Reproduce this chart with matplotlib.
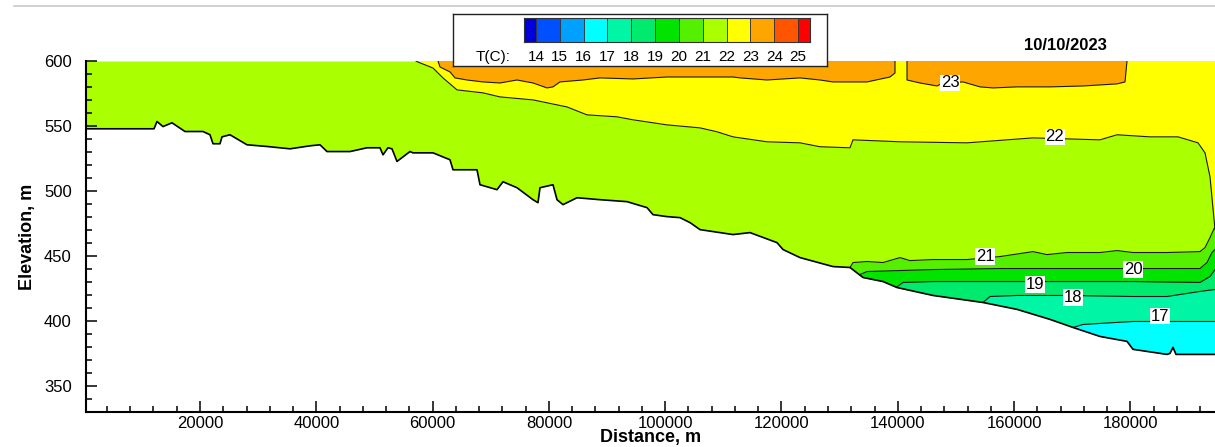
import matplotlib
matplotlib.use("Agg")
import matplotlib.pyplot as plt
from matplotlib.ticker import MultipleLocator
from matplotlib.lines import Line2D

plt.rcParams["font.family"] = ["Liberation Sans", "DejaVu Sans"]

# Perfil del fondo del embalse (distancia m, cota m)
BED_X = [0, 12090, 12605, 13637, 15185, 17420, 20516, 21720, 22236, 23440,
         23783, 25159, 28083, 31522, 35477, 38917, 40636, 41840, 45795, 48719,
         50955, 51470, 52330, 53018, 53878, 56114, 56630, 60069, 62992, 63508,
         67636, 68152, 71075, 72107, 74515, 77266, 78126, 78470, 80705, 81393,
         82425, 84833, 88788, 93431, 96871, 97903, 100310, 102546, 104266, 105985,
         111660, 114584, 119227, 120259, 123182, 128857, 131781, 134017, 137456, 139863,
         146054, 154652, 160499, 166175, 170130, 174773, 179417, 180449, 186295, 186811,
         187327, 187843, 194550]
BED_Z = [547.9, 547.9, 553.5, 549.6, 552.5, 545.8, 545.8, 543.3, 536.4, 536.4,
         541.7, 543.3, 535.6, 534.3, 532.5, 534.8, 535.6, 530.4, 530.4, 533.3,
         533.3, 527.9, 533.3, 532.5, 522.8, 530.4, 529.4, 529.4, 524.1, 516.4,
         516.4, 504.9, 501.1, 507.2, 502.6, 493.4, 491.1, 502.6, 504.9, 493.4,
         489.6, 494.9, 493.4, 491.9, 487.3, 481.9, 480.4, 479.6, 475.8, 470.4,
         466.6, 468.1, 460.4, 455.1, 448.9, 442.0, 441.3, 433.6, 430.5, 425.9,
         419.8, 414.4, 409.1, 401.4, 395.2, 388.3, 384.5, 378.4, 374.5, 375.3,
         379.9, 374.5, 374.5]

# Isotermas (distancia m, cota m)
ISO23A_X = [60929, 61273, 62992, 63852, 65916, 68667, 71591, 74515, 77266, 79674,
            80705, 81910, 85865, 88788, 94465, 100310, 105985, 111660, 112864, 117507,
            123182, 126624, 128857, 134706, 138659, 139519, 139519]
ISO23A_Z = [600, 595.4, 591.6, 587.0, 585.4, 583.9, 583.1, 585.4, 583.1, 579.3,
            580.1, 583.9, 585.4, 587.0, 586.2, 587.7, 587.7, 587.7, 587.0, 585.4,
            587.0, 585.4, 583.9, 583.9, 587.7, 590.8, 600]

ISO23B_X = [141585, 141585, 143819, 146743, 147775, 151216, 154139, 156374, 160499,
            166175, 171852, 177698, 179073, 179417]
ISO23B_Z = [600, 585.4, 583.1, 580.8, 583.1, 583.9, 580.1, 579.3, 580.1,
            580.1, 580.8, 582.4, 583.9, 600]

ISO22_X = [57146, 57489, 60069, 61789, 64197, 68667, 71591, 77266, 83114, 86553,
           91713, 94465, 100310, 105985, 108911, 111660, 117507, 123182, 126624, 131781,
           132297, 140379, 151903, 163252, 174773, 177698, 183372, 188187, 191627, 192831,
           193691, 194550]
ISO22_Z = [600.0, 599.2, 594.6, 587.0, 577.8, 575.5, 572.4, 570.1, 564.7, 558.6,
           557.1, 554.8, 550.9, 548.6, 545.6, 541.7, 537.9, 537.1, 534.1, 533.3,
           539.4, 537.9, 537.1, 540.9, 539.4, 543.3, 541.7, 541.7, 537.1, 529.4,
           511.0, 470.4]

ISO21_X = [131781, 132297, 134706, 137456, 140379, 142099, 146054, 151903, 157576, 163252,
           165659, 169098, 174773, 177698, 180449, 186295, 191970, 192831, 193691, 194550]
ISO21_Z = [441.3, 445.1, 445.9, 445.1, 448.9, 446.6, 447.4, 447.4, 449.7, 453.5,
           451.2, 452.8, 452.8, 454.3, 452.8, 452.8, 453.5, 456.6, 464.3, 472.7]

ISO20_X = [133501, 134706, 146054, 157576, 169098, 180449, 191970, 193174, 194034, 194550]
ISO20_Z = [435.9, 438.2, 439.7, 440.5, 440.5, 440.5, 440.5, 445.1, 452.8, 455.1]

ISO19_X = [139691, 140895, 146054, 157576, 169098, 180449, 191970, 193691, 194550]
ISO19_Z = [425.9, 429.8, 430.5, 430.5, 430.5, 430.5, 429.8, 434.4, 439.7]

ISO18_X = [154652, 155856, 160499, 169098, 180449, 186295, 191970, 194550]
ISO18_Z = [414.4, 419.0, 419.8, 419.8, 419.0, 419.0, 422.9, 424.4]

ISO17_X = [170130, 171852, 177698, 180449, 186295, 194550]
ISO17_Z = [395.2, 397.5, 399.1, 399.8, 399.8, 399.8]

# Escala de colores
LEVELS = [14, 15, 16, 17, 18, 19, 20, 21, 22, 23, 24, 25]
LEVEL_COLORS = ["#0000dd", "#0050ff", "#00a0ff", "#00ffff", "#00f5a5", "#00ea6e",
                "#00e400", "#55f000", "#aaff00", "#ffff00", "#ffa500", "#ff5500",
                "#ff0000"]

# Etiquetas de las isotermas
LABEL_T = [23, 22, 21, 20, 19, 18, 17]
LABEL_X = [148978, 167034, 154997, 180449, 163595, 170130, 185094]
LABEL_Z = [583.1, 541.7, 449.7, 439.7, 428.2, 418.2, 403.9]

DATE = "10/10/2023"


def band_color(t):
    # color de la banda [t, t+1)
    return LEVEL_COLORS[LEVELS.index(t) + 1]


fig = plt.figure(figsize=(12.15, 4.47), dpi=100)
ax = fig.add_axes([0.07053, 0.07763, 0.92947, 0.78591])

# agua (21-22)
ax.fill_between(BED_X, BED_Z, 600, color=band_color(21), lw=0, zorder=1)
# capas superiores
ax.fill_between(ISO22_X, ISO22_Z, 600, color=band_color(22), lw=0, zorder=1)
ax.fill(ISO23A_X, ISO23A_Z, color=band_color(23), lw=0, zorder=1)
ax.fill(ISO23B_X, ISO23B_Z, color=band_color(23), lw=0, zorder=1)
# capas inferiores
for xs, zs, t in [(ISO21_X, ISO21_Z, 20), (ISO20_X, ISO20_Z, 19), (ISO19_X, ISO19_Z, 18),
                  (ISO18_X, ISO18_Z, 17), (ISO17_X, ISO17_Z, 16)]:
    ax.fill_between(xs, 330, zs, color=band_color(t), lw=0, zorder=1)

for xs, zs in [(ISO23A_X, ISO23A_Z), (ISO23B_X, ISO23B_Z), (ISO22_X, ISO22_Z),
               (ISO21_X, ISO21_Z), (ISO20_X, ISO20_Z), (ISO19_X, ISO19_Z),
               (ISO18_X, ISO18_Z), (ISO17_X, ISO17_Z)]:
    ax.plot(xs, zs, color="#1a1a1a", lw=0.8, zorder=1.2)

# terreno
ax.fill_between(BED_X, 330, BED_Z, color="white", lw=0, zorder=1.5)
ax.plot(BED_X, BED_Z, color="black", lw=1.2, zorder=2)

for t, x, z in zip(LABEL_T, LABEL_X, LABEL_Z):
    ax.text(x, z, str(t), ha="center", va="center", fontsize=12, zorder=3,
            bbox=dict(facecolor="white", edgecolor="none", pad=0.5))

ax.set_xlim(344, 194550)
ax.set_ylim(330, 600)
ax.xaxis.set_major_locator(MultipleLocator(20000))
ax.xaxis.set_minor_locator(MultipleLocator(4000))
ax.yaxis.set_major_locator(MultipleLocator(50))
ax.yaxis.set_minor_locator(MultipleLocator(10))
ax.tick_params(which="both", direction="in", top=False, right=False, width=1.1)
ax.tick_params(which="major", length=8, labelsize=12)
ax.tick_params(which="minor", length=4.5)
ax.tick_params(axis="x", pad=3)
ax.tick_params(axis="y", pad=10)
for s in ["top", "right"]:
    ax.spines[s].set_visible(False)
for s in ["left", "bottom"]:
    ax.spines[s].set_linewidth(1.5)
ax.set_xlabel("Distance, m", fontsize=13, fontweight="bold", labelpad=-2)
ax.set_ylabel("Elevation, m", fontsize=13, fontweight="bold", labelpad=6)

# leyenda de colores
box = fig.add_axes([0.3726, 0.853, 0.3083, 0.1157])
box.set_xticks([])
box.set_yticks([])
for s in box.spines.values():
    s.set_linewidth(1)
    s.set_color("#222222")

cax = fig.add_axes([0.4313, 0.906, 0.2354, 0.0537])
edges = [LEVELS[0] - 0.5] + LEVELS + [LEVELS[-1] + 0.5]
widths = [b - a for a, b in zip(edges[:-1], edges[1:])]
cax.bar(edges[:-1], 1, width=widths, align="edge", color=LEVEL_COLORS,
        edgecolor="#333333", linewidth=0.6)
cax.set_xlim(edges[0], edges[-1])
cax.set_ylim(0, 1)
cax.set_yticks([])
cax.set_xticks(LEVELS)
cax.set_xticklabels([str(v) for v in LEVELS])
cax.tick_params(axis="x", length=0, pad=6, labelsize=11)
for s in cax.spines.values():
    s.set_linewidth(0.8)
    s.set_color("#333333")
fig.text(510 / 1215, 1 - 57 / 447, "T(C):", ha="right", va="center", fontsize=11)

fig.text(1065 / 1215, 1 - 45 / 447, DATE, ha="center", va="center",
         fontsize=12, fontweight="bold")

fig.add_artist(Line2D([14 / 1215, 1], [1 - 6 / 447, 1 - 6 / 447],
                      color="#c8c8c8", lw=1.2))

fig.savefig("out.png", dpi=100)
